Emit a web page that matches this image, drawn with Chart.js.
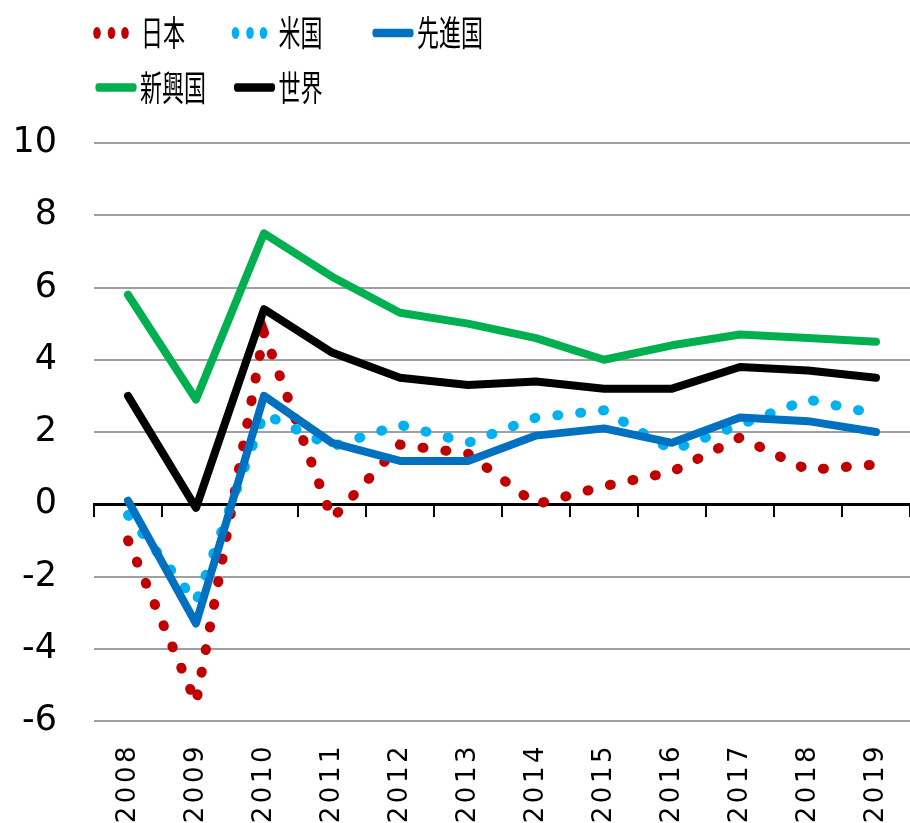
<!DOCTYPE html>
<html lang="ja">
<head>
<meta charset="utf-8">
<script src="https://cdn.jsdelivr.net/npm/chart.js@4.4.1/dist/chart.umd.min.js"></script>
<style>
    html, body { margin: 0; padding: 0; background: #fff; }
    #wrap { position: relative; width: 910px; height: 823px; }
</style>
</head>
<body>
<div id="wrap"><canvas id="growthChart"></canvas></div>
<script>
// 年
const years = ['2008', '2009', '2010', '2011', '2012', '2013', '2014', '2015', '2016', '2017', '2018', '2019'];

// 実質GDP成長率（%）
const japan    = [-1.0, -5.5, 4.75, -0.4, 1.65, 1.4, 0.0, 0.5, 0.9, 1.85, 0.95, 1.1];
const usa      = [-0.3, -2.7, 2.5, 1.6, 2.2, 1.7, 2.4, 2.6, 1.5, 2.2, 2.9, 2.5];
const advanced = [0.1, -3.3, 3.0, 1.7, 1.2, 1.2, 1.9, 2.1, 1.7, 2.4, 2.3, 2.0];
const emerging = [5.8, 2.9, 7.5, 6.3, 5.3, 5.0, 4.6, 4.0, 4.4, 4.7, 4.6, 4.5];
const world    = [3.0, -0.1, 5.4, 4.2, 3.5, 3.3, 3.4, 3.2, 3.2, 3.8, 3.7, 3.5];

// 縦軸
const yMin = -6;
const yMax = 10;
const yStep = 2;

// 凡例（3列で並べる）
const colLegend = {
    id: 'colLegend',
    afterDatasetsDraw(chart) {
        // 横軸ラベルの字間
        chart.ctx.letterSpacing = '3.5px';
    },
    afterDraw(chart) {
        const ctx = chart.ctx;
        ctx.letterSpacing = '0px';
        chart.data.datasets.forEach(function (ds, i) {
            const x = 95 + (i % 3) * 138.5;
            const y = 33 + Math.floor(i / 3) * 54.5;
            ctx.save();
            ctx.translate(x, y);
            ctx.scale(1, 1.6);
            ctx.fillStyle = ds.borderColor;
            ctx.strokeStyle = ds.borderColor;
            if (ds.borderDash) {
                [2, 16.5, 30].forEach(function (dx) {
                    ctx.beginPath();
                    ctx.arc(dx, 0, 3.8, 0, Math.PI * 2);
                    ctx.fill();
                });
            } else {
                ctx.lineWidth = 5.2;
                ctx.lineCap = 'round';
                ctx.beginPath();
                ctx.moveTo(3, 0);
                ctx.lineTo(39, 0);
                ctx.stroke();
            }
            ctx.fillStyle = '#000';
            ctx.font = '22px "Noto Sans CJK JP"';
            ctx.textBaseline = 'middle';
            ctx.fillText(ds.label, i === 0 ? 46 : 45, 0);
            ctx.restore();
        });
    }
};

// 横軸の左右余白をなくす
function noSidePadding(scale) {
    scale.paddingLeft = 0;
    scale.paddingRight = 0;
}

document.addEventListener('DOMContentLoaded', function () {
    const ctx = document.getElementById('growthChart');
    new Chart(ctx, {
        type: 'line',
        data: {
            labels: years,
            datasets: [{
                label: '日本',
                data: japan,
                borderColor: '#C00000',
                borderWidth: 10,
                borderDash: [1, 22],
                borderCapStyle: 'round',
                pointRadius: 0,
                order: 5
            }, {
                label: '米国',
                data: usa,
                borderColor: '#00B0F0',
                borderWidth: 10,
                borderDash: [1, 22],
                borderCapStyle: 'round',
                pointRadius: 0,
                order: 4
            }, {
                label: '先進国',
                data: advanced,
                borderColor: '#0070C0',
                borderWidth: 8,
                borderCapStyle: 'round',
                borderJoinStyle: 'round',
                pointRadius: 0,
                order: 3
            }, {
                label: '新興国',
                data: emerging,
                borderColor: '#00B050',
                borderWidth: 8,
                borderCapStyle: 'round',
                borderJoinStyle: 'round',
                pointRadius: 0,
                order: 2
            }, {
                label: '世界',
                data: world,
                borderColor: '#000000',
                borderWidth: 8,
                borderCapStyle: 'round',
                borderJoinStyle: 'round',
                pointRadius: 0,
                order: 1
            }]
        },
        options: {
            responsive: true,
            maintainAspectRatio: false,
            animation: false,
            layout: {
                padding: { top: 143, left: 0, right: 0, bottom: 0 }
            },
            scales: {
                x: {
                    type: 'category',
                    position: { y: 0 },
                    offset: true,
                    afterFit: noSidePadding,
                    grid: {
                        offset: true,
                        drawOnChartArea: false,
                        drawTicks: true,
                        tickLength: 11,
                        color: '#000',
                        lineWidth: 2
                    },
                    border: { color: '#000', width: 3 },
                    ticks: { display: false }
                },
                x2: {
                    type: 'category',
                    labels: years,
                    position: 'bottom',
                    offset: true,
                    afterFit: function (scale) {
                        noSidePadding(scale);
                        scale.height = 102;
                    },
                    grid: { display: false, drawTicks: false },
                    border: { display: false },
                    ticks: {
                        z: 1,
                        autoSkip: false,
                        minRotation: 90,
                        maxRotation: 90,
                        padding: 22,
                        color: '#000',
                        font: { family: 'DejaVu Sans', size: 26 }
                    }
                },
                y: {
                    min: yMin,
                    max: yMax,
                    afterFit: function (scale) { scale.width = 94; },
                    border: { display: false },
                    grid: { color: '#a0a0a0', lineWidth: 2, drawTicks: false },
                    ticks: {
                        stepSize: yStep,
                        padding: 37,
                        color: '#000',
                        font: { family: 'DejaVu Sans', size: 35 }
                    }
                }
            },
            plugins: {
                legend: { display: false },
                tooltip: { enabled: false }
            }
        },
        plugins: [colLegend]
    });
});
</script>
</body>
</html>
